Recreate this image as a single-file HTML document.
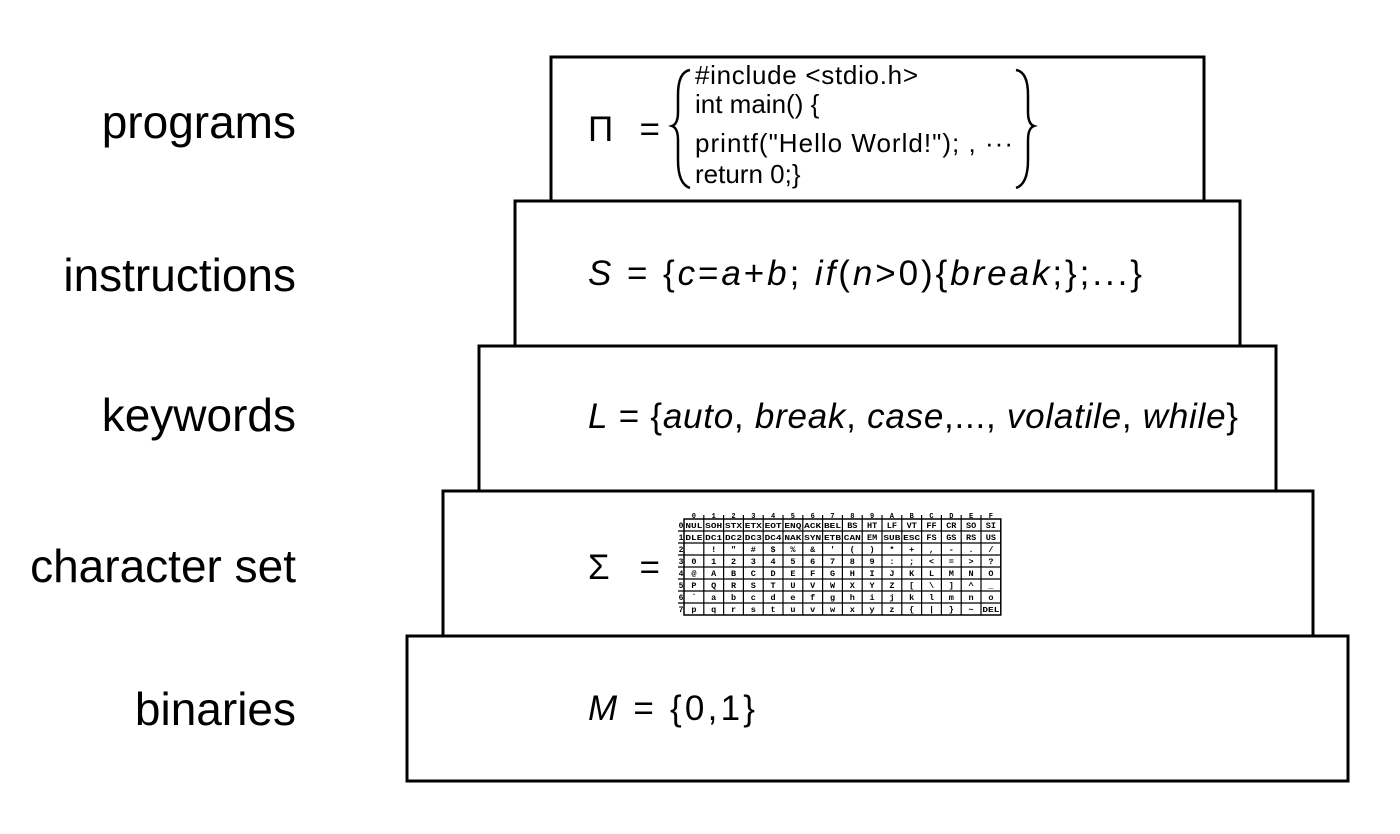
<!DOCTYPE html>
<html><head><meta charset="utf-8"><style>
html,body{margin:0;padding:0;background:#fff;}
svg{display:block;font-family:"Liberation Sans",sans-serif;}
</style></head><body>
<svg id="s" width="1400" height="834" viewBox="0 0 1400 834">
<g fill="#fff" stroke="#000" stroke-width="3">
<rect x="551" y="57" width="653" height="144"/>
<rect x="515" y="201" width="725" height="145"/>
<rect x="479" y="346" width="797" height="145"/>
<rect x="443" y="491" width="870" height="145"/>
<rect x="407" y="636" width="941" height="145"/>
</g>
<g font-size="46" text-anchor="end" fill="#000">
<text x="296" y="138">programs</text>
<text x="296" y="291">instructions</text>
<text x="296" y="431">keywords</text>
<text x="296" y="582">character set</text>
<text x="296" y="725">binaries</text>
</g>
<g font-size="35" fill="#000">
<text x="588" y="141" textLength="72" lengthAdjust="spacing">Π =</text>
<path d="M690 70 Q678 72 678 95 L678 112 Q678 124 672 126 Q678 128 678 140 L678 160 Q678 184 690 188" fill="none" stroke="#000" stroke-width="2.5"/>
<path d="M1016 70 Q1028 72 1028 95 L1028 112 Q1028 124 1034 126 Q1028 128 1028 140 L1028 160 Q1028 184 1016 188" fill="none" stroke="#000" stroke-width="2.5"/>
<g font-size="26">
<text x="695" y="84" textLength="223">#include &lt;stdio.h&gt;</text>
<text x="695" y="113">int main() {</text>
<text x="695" y="152" textLength="318" lengthAdjust="spacing">printf("Hello World!"); ,  ···</text>
<text x="695" y="183">return 0;}</text>
</g>
<text x="588" y="285" textLength="554" lengthAdjust="spacing"><tspan font-style="italic">S</tspan>  =  {<tspan font-style="italic">c</tspan>=<tspan font-style="italic">a</tspan>+<tspan font-style="italic">b</tspan>;  <tspan font-style="italic">if</tspan>(<tspan font-style="italic">n</tspan>&gt;0){<tspan font-style="italic">break</tspan>;};...}</text>
<text x="588" y="428" textLength="650" lengthAdjust="spacing"><tspan font-style="italic">L</tspan>  =  {<tspan font-style="italic">auto</tspan>, <tspan font-style="italic">break</tspan>, <tspan font-style="italic">case</tspan>,..., <tspan font-style="italic">volatile</tspan>, <tspan font-style="italic">while</tspan>}</text>
<text x="588" y="579" textLength="72" lengthAdjust="spacing">Σ =</text>
<text x="588" y="720" textLength="167" lengthAdjust="spacing"><tspan font-style="italic">M</tspan>  =  {0,1}</text>
</g>
<g id="tbl"></g>
</svg>
<script>
const cols=["0","1","2","3","4","5","6","7","8","9","A","B","C","D","E","F"];
const rows=["0","1","2","3","4","5","6","7"];
const cells=[
["NUL","SOH","STX","ETX","EOT","ENQ","ACK","BEL","BS","HT","LF","VT","FF","CR","SO","SI"],
["DLE","DC1","DC2","DC3","DC4","NAK","SYN","ETB","CAN","EM","SUB","ESC","FS","GS","RS","US"],
[" ","!","\"","#","$","%","&","'","(",")","*","+",",","-",".","/"],
["0","1","2","3","4","5","6","7","8","9",":",";","<","=",">","?"],
["@","A","B","C","D","E","F","G","H","I","J","K","L","M","N","O"],
["P","Q","R","S","T","U","V","W","X","Y","Z","[","\\","]","^","_"],
["`","a","b","c","d","e","f","g","h","i","j","k","l","m","n","o"],
["p","q","r","s","t","u","v","w","x","y","z","{","|","}","~","DEL"]];
const g=document.getElementById('tbl');const NS="http://www.w3.org/2000/svg";
const x0=684,cw=19.8,y0=519,rh=12;
function mk(t,a){const e=document.createElementNS(NS,t);for(const k in a)e.setAttribute(k,a[k]);g.appendChild(e);return e;}
const r=mk('rect',{x:x0,y:y0,width:cw*16,height:rh*8,fill:'none',stroke:'#000','stroke-width':1.5});


for(let i=1;i<16;i++){const l=mk('line',{x1:x0+i*cw,x2:x0+i*cw,y1:y0-4,y2:y0+rh*8,stroke:'#000','stroke-width':1.2});}
for(let j=1;j<8;j++){const l=mk('line',{x1:x0-6,x2:x0+cw*16,y1:y0+j*rh,y2:y0+j*rh,stroke:'#000','stroke-width':1.2});}
cols.forEach((c,i)=>{const t=mk('text',{x:x0+i*cw+cw/2,y:y0-1,'font-size':7,'font-weight':'bold','text-anchor':'middle','font-family':'Liberation Mono,monospace'});t.textContent=c;});
rows.forEach((c,j)=>{const t=mk('text',{x:x0-3,y:y0+j*rh+9,'font-size':8,'font-weight':'bold','text-anchor':'middle','font-family':'Liberation Mono,monospace'});t.textContent=c;
cells[j].forEach((v,i)=>{const t2=mk('text',{x:x0+i*cw+cw/2,y:y0+j*rh+9,'font-size':v.length>2?7:8.5,'font-weight':'bold','text-anchor':'middle','font-family':'Liberation Mono,monospace'});if(v.length>2){t2.setAttribute('textLength',17);t2.setAttribute('lengthAdjust','spacingAndGlyphs');}t2.textContent=v;});});
</script>
</body></html>
